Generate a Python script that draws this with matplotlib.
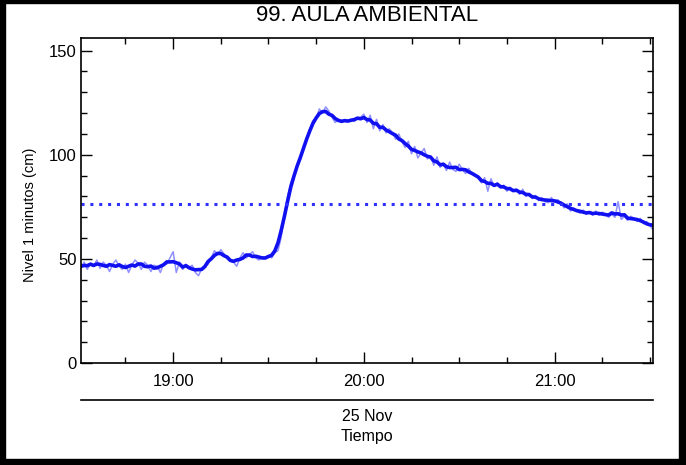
import pandas as pd
import matplotlib
matplotlib.use('Agg')
import matplotlib.pyplot as plt
import matplotlib.dates as mdates
from matplotlib.patches import Rectangle

plt.rcParams['font.family'] = ['Liberation Sans', 'DejaVu Sans']

titulo = '99. AULA AMBIENTAL'
fecha = '25 Nov'
inicio = '2023-11-25 18:31'
fin = '2023-11-25 21:31'
umbral = 76.5

# nivel medido cada minuto (cm), desde las 18:31
nivel = [
    46.0, 48.5, 45.0, 48.0, 46.5, 49.5, 45.5, 48.5, 47.0, 44.0,
    47.5, 49.5, 46.5, 45.0, 47.5, 43.5, 47.0, 49.5, 48.0, 45.0,
    48.5, 47.0, 44.0, 47.0, 46.5, 43.5, 48.0, 47.5, 50.5, 53.5,
    43.5, 48.5, 45.0, 47.5, 46.0, 47.0, 43.5, 42.0, 45.5, 46.5,
    47.5, 50.5, 54.0, 52.0, 54.5, 52.5, 50.0, 49.0, 48.5, 46.5,
    50.5, 53.0, 50.5, 52.0, 53.5, 50.5, 49.5, 51.0, 50.0, 51.5,
    50.5, 53.0, 54.0, 60.5, 71.0, 80.0, 86.5, 90.0, 94.5, 97.5,
    104.0, 107.0, 112.5, 116.5, 117.5, 122.0, 120.0, 123.0, 121.0, 118.0,
    115.5, 117.0, 115.5, 116.5, 116.0, 117.0, 116.0, 117.5, 118.0, 119.5,
    115.5, 119.0, 112.5, 117.0, 111.5, 114.5, 110.5, 112.5, 110.5, 107.5,
    110.0, 106.5, 103.5, 106.5, 100.5, 104.0, 98.5, 101.0, 103.0, 98.0,
    99.5, 95.0, 99.0, 94.0, 95.5, 92.5, 96.5, 93.0, 92.0, 95.5,
    93.0, 91.0, 93.5, 91.0, 90.5, 89.5, 86.5, 89.0, 82.5, 88.5,
    85.0, 86.5, 84.0, 85.5, 82.5, 84.5, 82.5, 83.5, 81.0, 83.5,
    80.0, 81.5, 79.0, 80.5, 78.0, 79.5, 77.5, 77.0, 79.5, 77.5,
    78.5, 77.0, 74.5, 76.5, 73.0, 74.5, 73.0, 72.0, 73.5, 71.5,
    72.5, 71.0, 73.0, 71.0, 72.5, 71.5, 70.0, 71.5, 70.0, 77.5,
    69.0, 70.5, 68.5, 70.5, 69.5, 68.0, 69.5, 67.0, 68.0, 66.0,
    64.0, 67.0,
]

tiempo = pd.date_range(inicio, periods=len(nivel), freq='min')
serie = pd.Series(nivel, index=tiempo)
# media movil para la curva gruesa
suave = serie.rolling(5, center=True, min_periods=1).mean()

fig = plt.figure(figsize=(6.86, 4.65), dpi=100)
ax = fig.add_axes([0.118, 0.219, 0.834, 0.699])

ax.plot(tiempo, serie.values, color='#9090ff', lw=1.1)
ax.plot(tiempo, suave.values, color='#1010f0', lw=2.6, solid_capstyle='round')
ax.axhline(umbral, color='#3030ff', lw=2.2, linestyle=(0, (1, 1.9)))

ax.set_xlim(pd.Timestamp(inicio), pd.Timestamp(fin))
ax.set_ylim(0, 156)
ax.set_yticks([0, 50, 100, 150])
ax.yaxis.set_minor_locator(plt.MultipleLocator(10))
ax.xaxis.set_major_locator(mdates.HourLocator())
ax.xaxis.set_minor_locator(mdates.MinuteLocator(byminute=[0, 15, 30, 45]))
ax.xaxis.set_major_formatter(mdates.DateFormatter('%H:%M'))

ax.tick_params(which='both', direction='in', top=True, right=True, width=1.0, labelsize=12)
ax.tick_params(which='major', length=8)
ax.tick_params(which='minor', length=4)
ax.tick_params(axis='x', pad=8)
ax.tick_params(axis='y', pad=3)
for s in ax.spines.values():
    s.set_linewidth(1.2)

ax.set_ylabel('Nivel 1 minutos (cm)', fontsize=10.5)
ax.yaxis.set_label_coords(-0.077, 0.455)
ax.set_title(titulo, fontsize=16, pad=12)

# segundo eje con la fecha
sec = ax.secondary_xaxis(-0.114)
sec.set_xticks([])
sec.spines['bottom'].set_linewidth(1.2)
sec.set_xlabel(fecha + '\nTiempo', fontsize=11.5, labelpad=6, linespacing=1.45)

# marco negro
for r in [(0, 0, 5 / 686, 1), (679 / 686, 0, 7 / 686, 1), (0, 0, 1, 6 / 465), (0, 462 / 465, 1, 3 / 465)]:
    fig.add_artist(Rectangle(r[:2], r[2], r[3], transform=fig.transFigure, color='black', zorder=10))

fig.savefig('out.png', dpi=100)
